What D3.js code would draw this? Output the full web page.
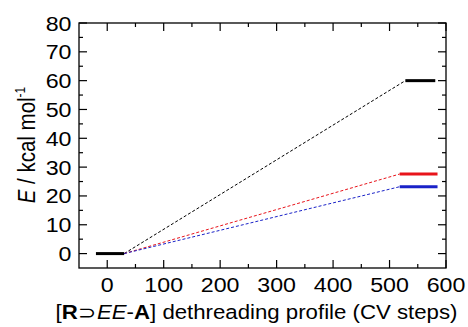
<!DOCTYPE html>
<html><head><meta charset="utf-8">
<script src="https://cdn.jsdelivr.net/npm/d3@7"></script>
<style>body{margin:0;background:#fff}svg{display:block}text{font-family:"Liberation Sans",Arial,Helvetica,sans-serif}</style>
</head><body><svg id="c" width="468" height="327"></svg>
<script>
// Data
const seriesNames = ["black", "red", "blue"];
const seriesColors = ["#000000", "#e8141b", "#1a22c8"];
const startLevel = [[-20, 0], [30, 0]];
const endLevels = [[528, 581, 60], [518, 585, 27.6], [518, 585, 23.2]];
const xTicks = [0, 100, 200, 300, 400, 500, 600];
const yTicks = [0, 10, 20, 30, 40, 50, 60, 70, 80];

const svg = d3.select("#c");
const L = 79, R = 446, T = 23, B = 268;
const SX = 1.16;
const x = d3.scaleLinear().domain([-50, 600]).range([L, R]);
const y = d3.scaleLinear().domain([-5, 80]).range([B, T]);

const g = svg.append("g");
g.append("rect").attr("x", L).attr("y", T).attr("width", R - L).attr("height", B - T)
  .attr("fill", "none").attr("stroke", "#000").attr("stroke-width", 1.3);

const xMinor = d3.range(0, 601, 50);
const yMinor = d3.range(0, 81, 5);
xMinor.forEach(v => {
  const len = v % 100 === 0 ? 8 : 4;
  g.append("line").attr("x1", x(v)).attr("x2", x(v)).attr("y1", B).attr("y2", B - len).attr("stroke", "#000").attr("stroke-width", 1.2);
  g.append("line").attr("x1", x(v)).attr("x2", x(v)).attr("y1", T).attr("y2", T + len).attr("stroke", "#000").attr("stroke-width", 1.2);
});
yMinor.forEach(v => {
  const len = v % 10 === 0 ? 8 : 4;
  g.append("line").attr("y1", y(v)).attr("y2", y(v)).attr("x1", L).attr("x2", L + len).attr("stroke", "#000").attr("stroke-width", 1.2);
  g.append("line").attr("y1", y(v)).attr("y2", y(v)).attr("x1", R).attr("x2", R - len).attr("stroke", "#000").attr("stroke-width", 1.2);
});

xTicks.forEach(v => {
  g.append("text").attr("transform", `translate(${x(v)},292) scale(${SX},1)`).attr("text-anchor", "middle")
    .attr("font-size", 20).text(v);
});
yTicks.forEach(v => {
  g.append("text").attr("transform", `translate(71.5,${y(v) + 7.5}) scale(${SX},1)`).attr("text-anchor", "end")
    .attr("font-size", 20).text(v);
});

endLevels.forEach((e, i) => {
  g.append("line").attr("x1", x(startLevel[1][0])).attr("y1", y(startLevel[1][1]))
    .attr("x2", x(e[0])).attr("y2", y(e[2]))
    .attr("stroke", seriesColors[i]).attr("stroke-width", 1).attr("stroke-dasharray", "3,2");
});
g.append("line").attr("x1", x(startLevel[0][0])).attr("x2", x(startLevel[1][0]))
  .attr("y1", y(startLevel[0][1])).attr("y2", y(startLevel[1][1]))
  .attr("stroke", "#000").attr("stroke-width", 3);
endLevels.forEach((e, i) => {
  g.append("line").attr("x1", x(e[0])).attr("x2", x(e[1])).attr("y1", y(e[2])).attr("y2", y(e[2]))
    .attr("stroke", seriesColors[i]).attr("stroke-width", 3);
});

const xl = svg.append("text").attr("transform", `translate(256.5,319) scale(1.14,1)`).attr("text-anchor", "middle").attr("font-size", 19.5);
xl.append("tspan").text("[");
xl.append("tspan").attr("font-weight", "bold").text("R");
xl.append("tspan").text("⊃");
xl.append("tspan").attr("font-style", "italic").text("EE");
xl.append("tspan").text("-");
xl.append("tspan").attr("font-weight", "bold").text("A");
xl.append("tspan").text("] dethreading profile (CV steps)");

const yl = svg.append("text").attr("transform", `translate(35,145) scale(${SX},1) rotate(-90)`).attr("text-anchor", "middle").attr("font-size", 20.5);
yl.append("tspan").attr("font-style", "italic").text("E");
yl.append("tspan").text(" / kcal mol");
yl.append("tspan").attr("font-size", 12).attr("dy", -9).text("-1");
</script></body></html>
